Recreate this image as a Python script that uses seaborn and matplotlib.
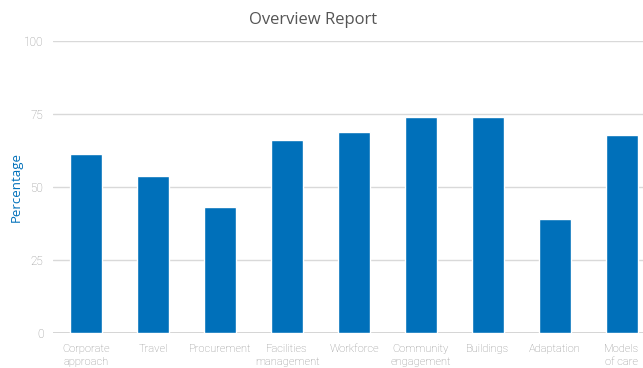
import matplotlib
matplotlib.use("Agg")
import matplotlib.pyplot as plt
import seaborn as sns
import pandas as pd

categories = ["Corporate\napproach", "Travel", "Procurement", "Facilities\nmanagement",
              "Workforce", "Community\nengagement", "Buildings", "Adaptation", "Models\nof care"]
values = [61.2, 53.7, 43.1, 66.0, 68.8, 73.9, 73.9, 39.0, 67.7]
y_ticks = [0, 25, 50, 75, 100]

df = pd.DataFrame({"area": categories, "pct": values})

sns.set_theme(style="white")
plt.rcParams["font.family"] = ["Open Sans", "DejaVu Sans"]

fig = plt.figure(figsize=(6.43, 3.68), dpi=100)
# axes run slightly past the right edge of the canvas
ax = fig.add_axes([53 / 643, 1 - 333 / 368, 602 / 643, 292 / 368])

sns.barplot(data=df, x="area", y="pct", color="#0070BA", width=0.48,
            saturation=1, ax=ax, zorder=3)

ax.set_ylim(0, 100)
ax.set_xlim(-0.5, 8.5)
ax.set_yticks(y_ticks)
ax.yaxis.grid(True, color="#d9d9d9", linewidth=1, zorder=0)
for s in ax.spines.values():
    s.set_visible(False)
ax.axhline(0, color="#d0d0d0", linewidth=1.2, zorder=2)

tick_font = ["Roboto", "DejaVu Sans"]
ax.tick_params(axis="both", length=0, colors="#8f8f8f")
ax.tick_params(axis="y", pad=7)
ax.tick_params(axis="x", pad=8)
for lab in ax.get_yticklabels():
    lab.set_family(tick_font)
    lab.set_fontsize(8.5)
    lab.set_fontweight("light")
for lab in ax.get_xticklabels():
    lab.set_family(tick_font)
    lab.set_fontsize(8)
    lab.set_fontweight("light")
    lab.set_linespacing(1.3)

ax.set_xlabel("")
ax.set_ylabel("Percentage", color="#0070BA", fontsize=9.5)
ax.yaxis.set_label_coords(-30 / 602, 0.5)

fig.text(313 / 643, 1 - 20 / 368, "Overview Report", ha="center", va="center",
         fontsize=12, color="#555555")

fig.savefig("out.png", dpi=100)
